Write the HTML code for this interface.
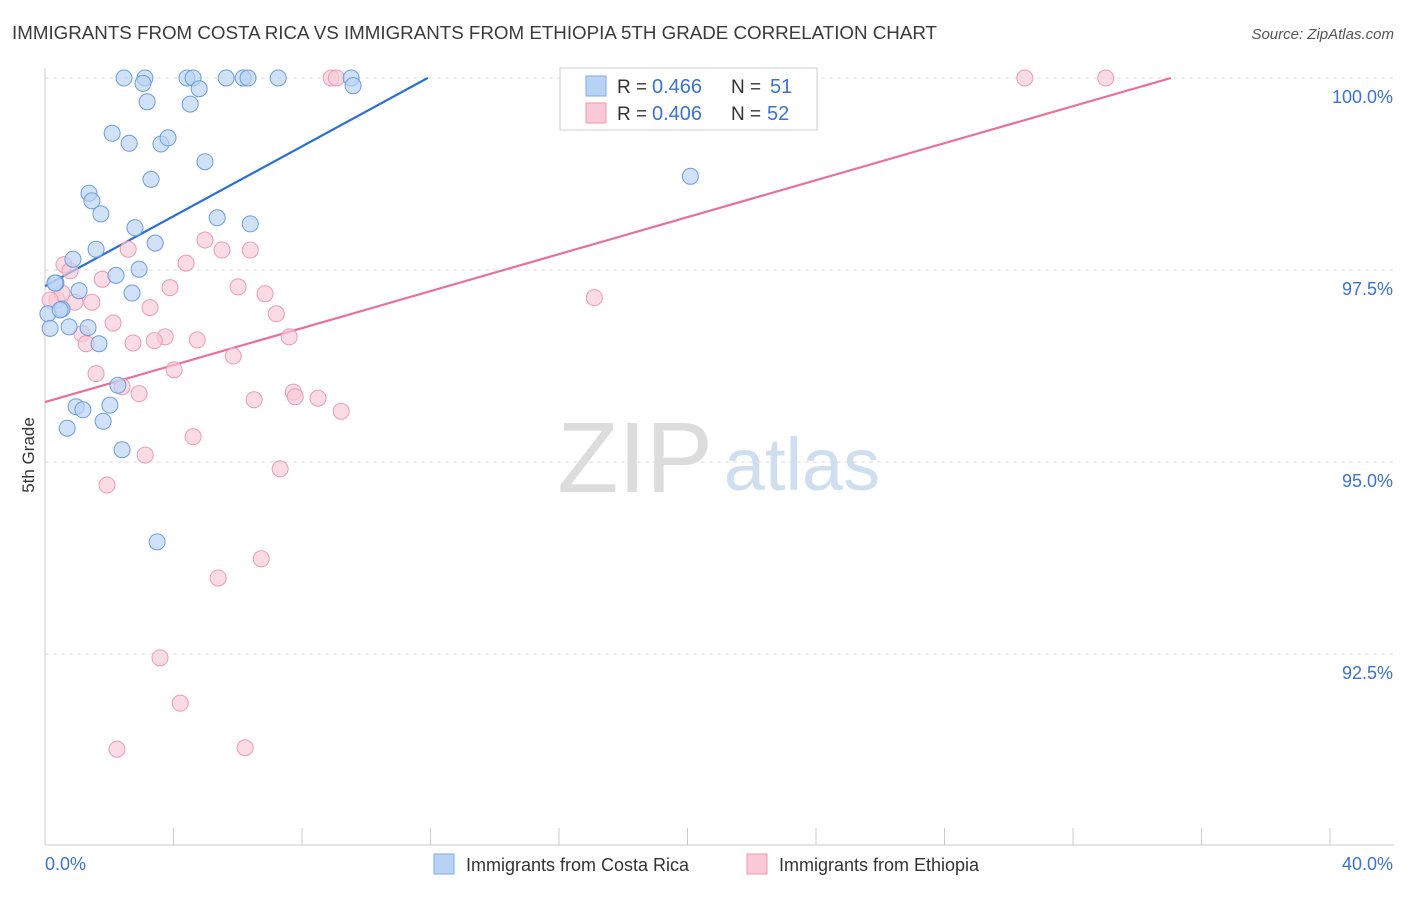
<!DOCTYPE html>
<html><head><meta charset="utf-8">
<style>
body{margin:0;background:#fff;font-family:"Liberation Sans",sans-serif;}
svg text{font-family:"Liberation Sans",sans-serif;}
</style></head>
<body>
<svg id="chart" width="1406" height="892" xmlns="http://www.w3.org/2000/svg">
<text x="12" y="39" font-size="18" fill="#3a3a3a" textLength="925" lengthAdjust="spacingAndGlyphs">IMMIGRANTS FROM COSTA RICA VS IMMIGRANTS FROM ETHIOPIA 5TH GRADE CORRELATION CHART</text>
<text x="1394" y="39" font-size="15" fill="#555" font-style="italic" text-anchor="end">Source: ZipAtlas.com</text>
<text transform="translate(34,455) rotate(-90)" font-size="17" fill="#333" text-anchor="middle">5th Grade</text>
<g>
<text x="635" y="492" font-size="100" fill="#dcdcdc" font-family="Liberation Serif" text-anchor="middle">ZIP</text>
<text x="802" y="490" font-size="74" fill="#cfdff0" text-anchor="middle">atlas</text>
</g>
<g id="grid"></g><g id="axes"></g><g id="lines"></g><g id="pts"></g>
<g>
<rect x="560" y="68" width="257" height="62" fill="#fff" stroke="#ccc"/>
<rect x="586" y="76" width="20" height="20" fill="#b9d3f5" stroke="#7aaae6"/>
<rect x="586" y="103" width="20" height="20" fill="#f9c9d7" stroke="#ee9ab3"/>
<text x="617" y="93" font-size="19" fill="#333">R =</text>
<text x="652" y="93" font-size="20" fill="#3a73d2">0.466</text>
<text x="731" y="93" font-size="19" fill="#333">N =</text>
<text x="770" y="93" font-size="20" fill="#3a73d2">51</text>
<text x="617" y="120" font-size="19" fill="#333">R =</text>
<text x="652" y="120" font-size="20" fill="#3a73d2">0.406</text>
<text x="731" y="120" font-size="19" fill="#333">N =</text>
<text x="767" y="120" font-size="20" fill="#3a73d2">52</text>
</g>
<g>
<rect x="434" y="854" width="20" height="20" fill="#b9d3f5" stroke="#7aaae6"/>
<text x="466" y="871" font-size="18" fill="#333">Immigrants from Costa Rica</text>
<rect x="747" y="854" width="20" height="20" fill="#f9c9d7" stroke="#ee9ab3"/>
<text x="779" y="871" font-size="18" fill="#333">Immigrants from Ethiopia</text>
</g>
</svg>
<script>
const yTicks=[100,97.5,95,92.5];
const yTickLabels=["100.0%","97.5%","95.0%","92.5%"];
const xTickLabels=["0.0%","40.0%"];
const blueX=[2.46,3.11,3.05,4.42,4.61,4.80,5.64,6.17,6.32,7.26,9.53,9.59,3.18,4.52,2.09,2.62,3.61,3.83,4.98,3.30,1.37,1.46,1.74,5.36,6.39,2.80,3.43,1.59,0.87,2.93,2.21,0.34,1.06,2.71,0.53,0.09,1.34,0.75,0.16,1.68,2.27,0.97,1.18,2.02,1.81,0.69,2.40,3.49,20.09,0.31,0.47];
const blueY=[100,100,99.93,100,100,99.86,100,100,100,100,100,99.9,99.69,99.66,99.28,99.15,99.14,99.22,98.91,98.68,98.50,98.40,98.23,98.18,98.10,98.05,97.85,97.77,97.64,97.51,97.43,97.33,97.23,97.20,96.99,96.93,96.75,96.76,96.74,96.54,96.00,95.72,95.68,95.74,95.53,95.44,95.16,93.96,98.72,97.33,96.98];
const pinkX=[8.91,9.07,23.27,30.50,33.02,2.59,4.98,5.51,6.39,4.39,0.59,0.78,1.78,3.89,6.01,6.85,0.37,1.46,0.93,3.27,7.20,2.12,7.60,3.74,3.40,4.74,2.74,1.15,1.28,5.86,4.02,1.59,2.40,2.93,7.73,7.79,6.51,8.50,9.22,4.61,3.12,7.32,1.93,6.73,5.39,3.58,4.21,2.24,6.23,17.10,0.53,0.16];
const pinkY=[100,100,100,100,100,97.77,97.89,97.76,97.76,97.59,97.57,97.49,97.38,97.27,97.28,97.19,97.11,97.08,97.08,97.01,96.93,96.81,96.63,96.63,96.58,96.59,96.55,96.67,96.54,96.38,96.20,96.15,95.98,95.89,95.91,95.85,95.81,95.83,95.66,95.33,95.09,94.91,94.70,93.74,93.49,92.45,91.86,91.26,91.28,97.14,97.20,97.11];
const blueTrend=[97.29,0.2275];
const pinkTrend=[95.78,0.1204];
const NS="http://www.w3.org/2000/svg";
const X=v=>45+v*32.125, Y=v=>78+(100-v)*76.8;
function mk(t,a,p){const e=document.createElementNS(NS,t);for(const k in a)e.setAttribute(k,a[k]);p.appendChild(e);return e;}
const grid=document.getElementById('grid'),axes=document.getElementById('axes'),lines=document.getElementById('lines'),pts=document.getElementById('pts');
yTicks.forEach((t,i)=>{
 const l=mk('line',{x1:45,x2:1394,y1:Y(t),y2:Y(t),stroke:'#ddd','stroke-dasharray':'4,4'},grid);
 
 
 const tx=mk('text',{x:1393,y:Y(t)+25,'font-size':18,fill:'#3a73d2','text-anchor':'end'},axes);tx.textContent=yTickLabels[i];
 
 
});
const ax=mk('line',{x1:45,x2:45,y1:68,y2:845,stroke:'#ccc'},axes);


const bx=mk('line',{x1:45,x2:1394,y1:845,y2:845,stroke:'#ccc'},axes);


for(let i=0;i<=10;i++){const t=mk('line',{x1:X(i*4),x2:X(i*4),y1:828,y2:845,stroke:'#ccc'},axes);
 
 }
[[0,'start',45],[40,'end',1393]].forEach((d,i)=>{const t=mk('text',{x:d[2],y:870,'font-size':18,fill:'#3a73d2','text-anchor':d[1]},axes);t.textContent=xTickLabels[i];
 
 });
function trend(tr,col,name){const x2=(100-tr[0])/tr[1];
 const l=mk('line',{x1:X(0),y1:Y(tr[0]),x2:X(x2),y2:Y(100),stroke:col,'stroke-width':2.2},lines);
 
 }
trend(blueTrend,'#2b6fd6','trend-line-costa-rica');
trend(pinkTrend,'#e8709a','trend-line-ethiopia');
function dots(xs,ys,fill,stroke,name){xs.forEach((x,i)=>{
 const c=mk('circle',{cx:X(x),cy:Y(ys[i]),r:8,fill:fill,'fill-opacity':0.65,stroke:stroke,'stroke-width':1},pts);
 
 });}
dots(pinkX,pinkY,'#f9c9d7','#ee9ab3','point-ethiopia');
dots(blueX,blueY,'#b9d3f5','#6a9de0','point-costa-rica');
</script>
</body></html>
